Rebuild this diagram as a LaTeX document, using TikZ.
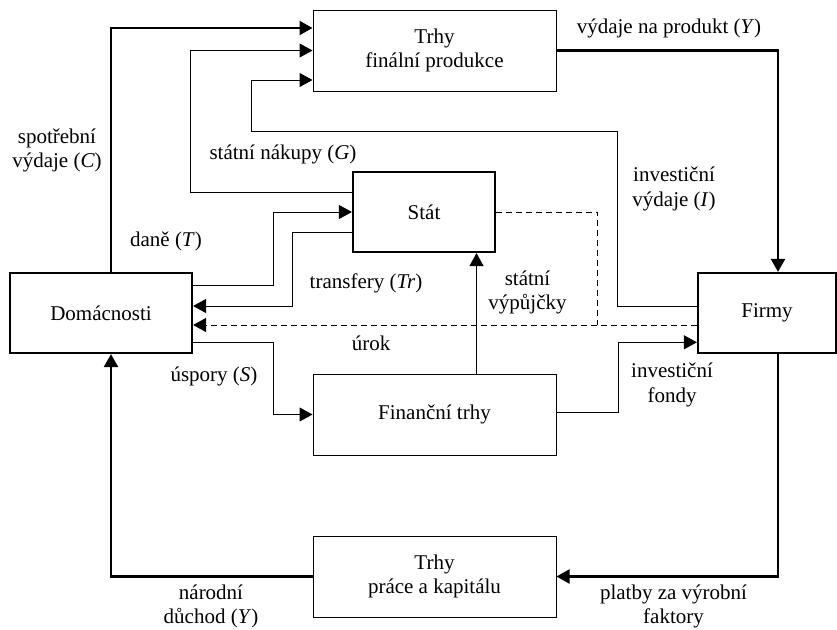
\documentclass[tikz,border=0pt]{standalone}
\usepackage{fontspec}
\setmainfont{Liberation Serif}
\usetikzlibrary{arrows.meta}
\begin{document}
\begin{tikzpicture}[x=1pt,y=-1pt,
  every node/.style={font=\fontsize{21}{24.5}\selectfont},
  thinbox/.style={draw,line width=1pt,minimum width=243pt,minimum height=81pt,inner sep=0pt,align=center},
  thickbox/.style={draw,line width=2.2pt,inner sep=0pt,align=center},
  tip/.style={-{Triangle[length=13pt,width=14pt]}},
  thinflow/.style={tip,line width=1pt},
  thickflow/.style={tip,line width=2.2pt},
  dashflow/.style={line width=1pt,dash pattern=on 6pt off 4pt},
  lab/.style={align=center,inner sep=0pt}]
\useasboundingbox (0,0) rectangle (837,629);
% boxes
\node[thinbox] (trhy) at (434.5,50.5) {Trhy\\finální produkce};
\node[thickbox,minimum width=142pt,minimum height=80pt] (stat) at (424,212) {Stát};
\node[thickbox,minimum width=182pt,minimum height=80pt] (dom) at (101,313) {Domácnosti};
\node[thickbox,minimum width=138pt,minimum height=80pt] (firmy) at (767,313) {Firmy};
\node[thinbox] (fin) at (434.5,414.5) {Finanční trhy};
\node[thinbox] (prace) at (434.5,576.5) {Trhy\\práce a kapitálu};
% connectors
\draw[thickflow] ([xshift=10pt]dom.north) |- ([yshift=22.5pt]trhy.west);
\draw[thinflow] ([yshift=20pt]stat.west) -- ++(-161,0) |- (trhy.west);
\draw[thinflow] ([yshift=7pt]firmy.west) -- ++(-79.7,0) -- ++(0,-174.3) -- ++(-365.6,0) |- ([yshift=-29.5pt]trhy.west);
\draw[thickflow] (trhy.east) -| ([xshift=11pt]firmy.north);
\draw[thinflow] ([yshift=28pt]dom.east) -- ++(80.7,0) |- (stat.west);
\draw[thinflow] ([yshift=-20.7pt]stat.west) -- ++(-59.7,0) |- ([yshift=7pt]dom.east);
\draw[dashflow,tip] ([yshift=-12pt]firmy.west) -- ([yshift=-12pt]dom.east);
\draw[dashflow] (stat.east) -- ++(101.7,0) -- ++(0,113);
\coordinate (fs) at ([xshift=42pt]fin.north);
\draw[thinflow] (fs) -- (fs |- stat.south);
\draw[thinflow] ([yshift=-29.3pt]dom.east) -- ++(80.7,0) |- (fin.west);
\draw[thinflow] ([yshift=2pt]fin.east) -- ++(62.3,0) |- ([yshift=-29.3pt]firmy.west);
\draw[thickflow] ([xshift=11pt]firmy.south) |- (prace.east);
\draw[thickflow] (prace.west) -| ([xshift=10pt]dom.south);
% labels
\node[lab] (l1) at (57,150.5) {spotřební\\výdaje (\textit{C})};
\node[lab] (l2) at (283,154) {státní nákupy (\textit{G})};
\node[lab] (l3) at (669,28.5) {výdaje na produkt (\textit{Y})};
\node[lab] (l4) at (674,189) {investiční\\výdaje (\textit{I})};
\node[lab] (l5) at (166,241) {daně (\textit{T})};
\node[lab] (l6) at (366,283) {transfery (\textit{Tr})};
\node[lab] (l7) at (527.5,292.5) {státní\\výpůjčky};
\node[lab] (l8) at (371,343) {úrok};
\node[lab] (l9) at (214,376) {úspory (\textit{S})};
\node[lab] (l10) at (672,385) {investiční\\fondy};
\node[lab] (l11) at (673.5,606.5) {platby za výrobní\\faktory};
\node[lab] (l12) at (211,606.5) {národní\\důchod (\textit{Y})};
\end{tikzpicture}
\end{document}
